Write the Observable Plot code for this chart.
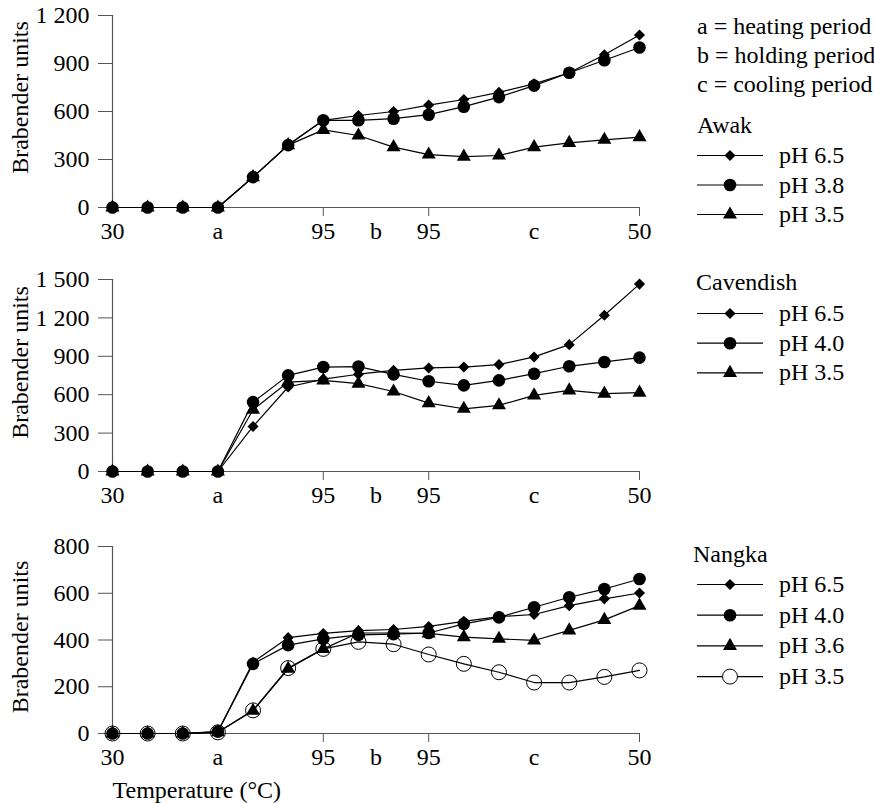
<!DOCTYPE html>
<html>
<head>
<meta charset="utf-8">
<script src="https://cdn.jsdelivr.net/npm/d3@7"></script>
<script src="https://cdn.jsdelivr.net/npm/@observablehq/plot@0.6"></script>
<style>
  html, body { margin: 0; padding: 0; background: #fff; }
  #wrap { position: relative; width: 874px; height: 803px; overflow: hidden; font-family: "Liberation Serif", "Times New Roman", serif; }
  #wrap > svg, #wrap > figure { position: absolute; left: 0; margin: 0; }
</style>
</head>
<body>
<div id="wrap"></div>
<script>
// ---------- data ----------
const xIndex = [0,1,2,3,4,5,6,7,8,9,10,11,12,13,14,15];
const xTickPos = [0, 3, 6, 7.5, 9, 12, 15];
const xTickLabels = ["30", "a", "95", "b", "95", "c", "50"];
const xTickMarks = [6, 9, 15];
const periodNotes = ["a = heating period", "b = holding period", "c = cooling period"];

const varieties = ["Awak", "Cavendish", "Nangka"];

const awakLabels = ["pH 6.5", "pH 3.8", "pH 3.5"];
const awakSymbols = ["diamond", "dot", "triangle"];
const awak65 = [0,0,0,0,190,390,545,575,600,640,675,720,773,842,955,1078];
const awak38 = [0,0,0,0,190,390,545,545,555,580,630,690,762,842,920,1000];
const awak35 = [0,0,0,0,190,390,485,450,377,331,318,325,377,404,423,440];
const awakTicks = [0, 300, 600, 900, 1200];

const cavLabels = ["pH 6.5", "pH 4.0", "pH 3.5"];
const cavSymbols = ["diamond", "dot", "triangle"];
const cav65 = [0,0,0,0,352,660,722,760,790,809,816,835,895,991,1221,1464];
const cav40 = [0,0,0,0,542,751,816,820,759,705,673,712,764,822,856,890];
const cav35 = [0,0,0,0,483,699,712,686,625,534,490,517,595,634,608,616];
const cavTicks = [0, 300, 600, 900, 1200, 1500];

const nanLabels = ["pH 6.5", "pH 4.0", "pH 3.6", "pH 3.5"];
const nanSymbols = ["diamond", "dot", "triangle", "open"];
const nan65 = [0,0,0,8,305,410,428,440,445,458,480,500,509,547,576,601];
const nan40 = [0,0,0,8,298,378,405,422,425,430,469,497,540,583,618,661];
const nan36 = [0,0,0,5,97,277,362,430,430,428,412,405,398,441,486,547];
const nan35 = [0,0,0,5,99,280,362,392,382,338,298,262,218,218,242,270];
const nanTicks = [0, 200, 400, 600, 800];

const yLabel = "Brabender units";
const xLabel = "Temperature (°C)";

// ---------- style ----------
const FONT = "\"Liberation Serif\", \"Times New Roman\", serif";
const FS = 24;
const AXIS = "#555";
const symStyle = {
  diamond: {symbol: "diamond2", r: 5, fill: "black", stroke: "none"},
  dot: {symbol: "circle", r: 6.3, fill: "black", stroke: "none"},
  triangle: {symbol: "triangle", r: 5.2, fill: "black", stroke: "none"},
  open: {symbol: "circle", r: 7.5, fill: "none", stroke: "black", strokeWidth: 1}
};
const fmt = d => d3.format(",")(d).replace(/,/g, " ");

const panels = [
  {name: varieties[0], labels: awakLabels, symbols: awakSymbols, series: [awak65, awak38, awak35], ticks: awakTicks,
   top: 0, height: 250, mt: 15, mb: 43, ylabDy: -14, xlab: false},
  {name: varieties[1], labels: cavLabels, symbols: cavSymbols, series: [cav65, cav40, cav35], ticks: cavTicks,
   top: 250, height: 265, mt: 29, mb: 44, ylabDy: -13, xlab: false},
  {name: varieties[2], labels: nanLabels, symbols: nanSymbols, series: [nan65, nan40, nan36, nan35], ticks: nanTicks,
   top: 520, height: 283, mt: 26, mb: 70, ylabDy: -3, xlab: true}
];

const wrap = document.getElementById("wrap");

panels.forEach(p => {
  const ymax = p.ticks[p.ticks.length - 1];
  const marks = [
    Plot.ruleY([0], {stroke: AXIS, strokeWidth: 1.2}),
    Plot.ruleX([0], {y1: 0, y2: ymax, stroke: AXIS, strokeWidth: 1.2}),
    Plot.axisY({ticks: p.ticks, tickSize: 14, tickPadding: 9, tickFormat: fmt, stroke: AXIS, fill: "black", label: null}),
    Plot.axisX({ticks: xTickMarks, tickSize: 9, tickFormat: () => "", stroke: AXIS, label: null}),
    Plot.axisX({ticks: xTickPos, tickSize: 0, tickPadding: 14, tickFormat: d => xTickLabels[xTickPos.indexOf(d)], fill: "black", label: null}),
    Plot.text([yLabel], {frameAnchor: "left", text: d => d, rotate: -90, textAnchor: "middle", lineAnchor: "middle", dx: -92, dy: p.ylabDy, fill: "black"})
  ];
  if (p.xlab) {
    marks.push(Plot.text([xLabel], {frameAnchor: "bottom-left", text: d => d, textAnchor: "start", lineAnchor: "middle", dy: 57, fill: "black"}));
  }
  p.series.forEach((vals, si) => {
    const rows = vals.map((v, i) => ({x: xIndex[i], y: v}));
    marks.push(Plot.line(rows, {x: "x", y: "y", stroke: "black", strokeWidth: 1.2}));
  });
  p.series.forEach((vals, si) => {
    const rows = vals.map((v, i) => ({x: xIndex[i], y: v}));
    const st = symStyle[p.symbols[si]];
    marks.push(Plot.dot(rows, {x: "x", y: "y", ...st}));
  });
  const chart = Plot.plot({
    width: 660, height: p.height,
    marginLeft: 112, marginRight: 21, marginTop: p.mt, marginBottom: p.mb,
    x: {domain: [0, 15]},
    y: {domain: [0, ymax]},
    style: {fontFamily: FONT, fontSize: FS + "px", color: "black", background: "transparent", overflow: "visible"},
    marks
  });
  chart.style.top = p.top + "px";
  chart.style.position = "absolute";
  chart.style.left = "0px";
  wrap.appendChild(chart);
});

// ---------- legends ----------
const leg = d3.select(wrap).append("svg")
  .attr("width", 874).attr("height", 803)
  .style("position", "absolute").style("top", "0px").style("left", "0px")
  .style("font-family", FONT).style("font-size", FS + "px");

periodNotes.forEach((t, i) => {
  leg.append("text").attr("x", 697).attr("y", 34 + i * 28.8).text(t);
});

const legendLayout = [
  {tx: 697, ty: 133, row0: 163, step: 29.5},
  {tx: 696, ty: 290, row0: 321, step: 29.7},
  {tx: 693, ty: 562, row0: 592, step: 30.7}
];
const d3sym = {diamond2: d3.symbolDiamond2, circle: d3.symbolCircle, triangle: d3.symbolTriangle};

panels.forEach((p, pi) => {
  const L = legendLayout[pi];
  leg.append("text").attr("x", L.tx).attr("y", L.ty).text(p.name);
  p.labels.forEach((lab, i) => {
    const base = L.row0 + i * L.step;
    const cy = base - 7.5;
    leg.append("line").attr("x1", 697).attr("x2", 763).attr("y1", cy).attr("y2", cy)
      .attr("stroke", "black").attr("stroke-width", 1.2);
    const st = symStyle[p.symbols[i]];
    if (st.symbol === "circle") {
      leg.append("circle").attr("cx", 730).attr("cy", cy).attr("r", st.r)
        .attr("fill", st.fill === "none" ? "white" : st.fill)
        .attr("stroke", st.stroke).attr("stroke-width", st.strokeWidth || 0);
    } else {
      leg.append("path").attr("transform", `translate(730,${cy})`)
        .attr("d", d3.symbol(d3sym[st.symbol], Math.PI * st.r * st.r)())
        .attr("fill", st.fill);
    }
    leg.append("text").attr("x", 779).attr("y", base).text(lab);
  });
});
</script>
</body>
</html>
